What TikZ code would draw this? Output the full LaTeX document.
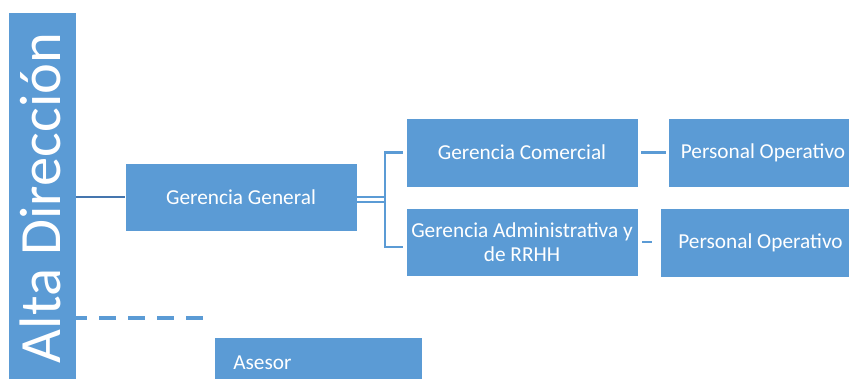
\documentclass[tikz,border=0pt]{standalone}
\usepackage{fontspec}
\usepackage{graphicx}
\setmainfont{Carlito}
\definecolor{boxblue}{HTML}{5B9BD5}
\definecolor{darkline}{HTML}{4576AE}
\definecolor{lightline}{HTML}{5B9BD5}
\begin{document}
\begin{tikzpicture}[x=1pt,y=-1pt,
  box/.style={draw=white, line width=0.6pt, fill=boxblue, text=white, inner sep=2pt,
    font=\fontsize{21.3}{24}\selectfont, align=center},
  conn/.style={draw=lightline, line width=2.2pt},
  darkconn/.style={draw=darkline, line width=2.2pt},
  dashline/.style={draw=lightline, line width=3.8pt, dash pattern=on 17pt off 12pt, dash phase=6pt}
]
\useasboundingbox (0,0) rectangle (849,379);
% Alta Direccion
\node[box, minimum width=68, minimum height=372, inner sep=0pt, font=\fontsize{58.5}{58.5}\selectfont] (alta) at (42,198)
  {\rotatebox{90}{Alta Dirección}\hspace*{3pt}};
% boxes
\node[box, minimum width=232, minimum height=68] (gg) at (241,197) {Gerencia General};
\node[box, minimum width=232, minimum height=69] (gc) at (522,152.5) {Gerencia Comercial};
\node[box, minimum width=232, minimum height=68] (ga) at (522,242) {Gerencia Administrativa y\\de RRHH};
\node[box, minimum width=190, minimum height=69] (po1) at (763,152.5) {Personal Operativo};
\node[box, minimum width=201, minimum height=69] (po2) at (760.5,242.5) {Personal Operativo};
\node[box, anchor=north west, minimum width=208, minimum height=50, inner xsep=19pt, text width=170pt, align=left] (asesor) at (214,337) {Asesor};
% connectors
\coordinate (bx) at (385,199.5);
\coordinate (dashend) at (203,318);
\draw[darkconn] (alta.east |- gg.west) -- (gg.west);
\draw[conn, line width=2.4pt] ([yshift=2.3pt]gg.east |- bx) -- ([yshift=2.3pt]bx);
\draw[conn, line width=2.4pt] ([yshift=-2.3pt]gg.east |- bx) -- ([yshift=-2.3pt]bx);
\draw[conn, shorten <=3pt] (gc.west) -| (bx) |- ([xshift=-3pt,yshift=-5pt]ga.west);
\draw[conn, shorten <=3pt, shorten >=2pt] (gc.east) -- (po1.west);
\draw[conn, shorten <=4pt, shorten >=8pt] (ga.east) -- (ga.east -| po2.west);
\draw[dashline] (alta.east |- dashend) -- (dashend);
\end{tikzpicture}
\end{document}
